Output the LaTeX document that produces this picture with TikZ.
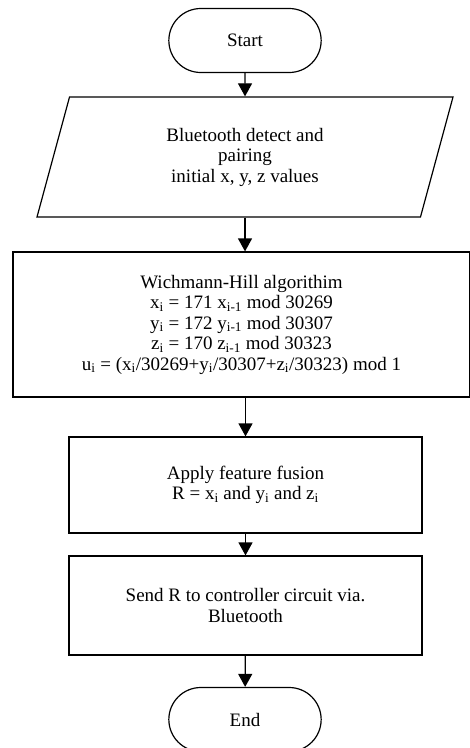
\documentclass[tikz,border=0pt]{standalone}
\usepackage{fontspec}
\setmainfont{Liberation Serif}
\usetikzlibrary{shapes.geometric,shapes.misc,arrows.meta}

\begin{document}
\begin{tikzpicture}[x=1pt, y=-1pt,
    every node/.style={font=\fontsize{19}{20.5}\selectfont, align=center, line width=1.2pt},
    terminal/.style={draw, rounded rectangle, minimum width=159pt, minimum height=64pt},
    io/.style={draw, trapezium, trapezium left angle=63.4, trapezium right angle=116.6,
        trapezium stretches body, minimum width=416pt, minimum height=120pt},
    process/.style={draw, rectangle},
    flow/.style={-{Triangle[width=14pt,length=13pt]}, line width=1.2pt}]
    \useasboundingbox (0,0) rectangle (470,748);

    \node (start) [terminal] at (245, 40.5) {Start};
    \node (bt_pairing) [io] at (245, 157) {Bluetooth detect and\\pairing\\initial x, y, z values};
    \node (wichmann_hill) [process, minimum width=457pt, minimum height=145pt] at (241.5, 324.5)
        {Wichmann-Hill algorithim\\
         x\textsubscript{i} = 171 x\textsubscript{i-1} mod 30269\\
         y\textsubscript{i} = 172 y\textsubscript{i-1} mod 30307\\
         z\textsubscript{i} = 170 z\textsubscript{i-1} mod 30323\\
         u\textsubscript{i} = (x\textsubscript{i}/30269+y\textsubscript{i}/30307+z\textsubscript{i}/30323) mod 1};
    \node (feature_fusion) [process, minimum width=353pt, minimum height=96pt] at (245.5, 485)
        {Apply feature fusion\\R = x\textsubscript{i} and y\textsubscript{i} and z\textsubscript{i}};
    \node (send_r) [process, minimum width=353pt, minimum height=99pt] at (245.5, 605.5)
        {Send R to controller circuit via.\\Bluetooth};
    \node (finish) [terminal] at (245, 719.5) {End};

    \draw[flow] (start) -- (bt_pairing);
    \draw[flow] (bt_pairing.south) -- (bt_pairing.south |- wichmann_hill.north);
    \draw[flow] (wichmann_hill.south -| feature_fusion.north) -- (feature_fusion.north);
    \draw[flow] (feature_fusion) -- (send_r);
    \draw[flow] (send_r) -- (finish);
\end{tikzpicture}
\end{document}
